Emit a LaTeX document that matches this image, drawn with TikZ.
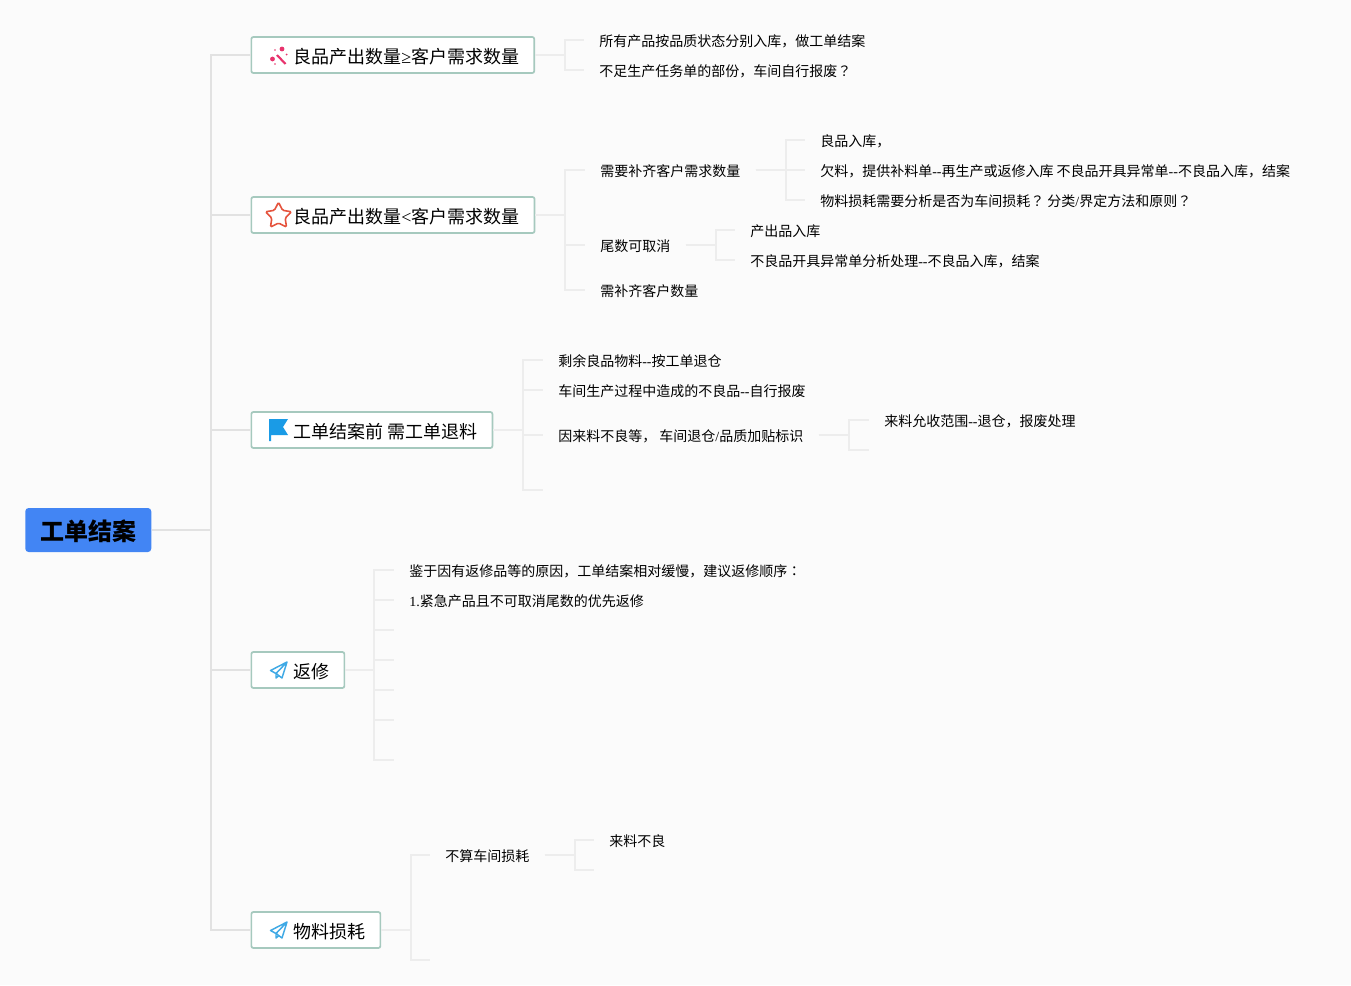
\documentclass[tikz,border=0pt]{standalone}
\usepackage{fontspec}
\usetikzlibrary{shapes.geometric}
\setmainfont{Noto Sans CJK SC}
\newfontfamily\latinfont{Liberation Serif}
\newfontfamily\jpfont{Noto Sans CJK JP}
\newcommand{\lat}[1]{{\latinfont #1}}
\newcommand{\wide}[1]{{\jpfont #1}}
\definecolor{pagebg}{HTML}{FBFBFB}
\definecolor{rootblue}{HTML}{4285F4}
\definecolor{boxedge}{HTML}{A6C9BE}
\definecolor{linkgray}{HTML}{EDEDED}
\definecolor{rootgray}{HTML}{E2E2E2}
\definecolor{wandpink}{HTML}{E8336D}
\definecolor{starred}{HTML}{E5533D}
\definecolor{flagblue}{HTML}{1A9BE6}
\definecolor{planeblue}{HTML}{3FA9E5}
\tikzset{
  rootbox/.style={draw=none, fill=rootblue, rounded corners=2.5pt, anchor=west, minimum height=33pt,
    inner xsep=11.25pt, inner ysep=0pt, font=\fontsize{18}{18}\selectfont\bfseries, text height=18pt, text depth=2.8pt},
  topicbox/.style={draw=boxedge, fill=white, line width=1.3pt, rounded corners=1.5pt, anchor=west, minimum height=27pt,
    inner xsep=11.25pt, inner ysep=0pt, font=\fontsize{13.5}{13.5}\selectfont, text height=15.5pt, text depth=2.3pt},
  leaf/.style={anchor=west, inner xsep=11.25pt, inner ysep=0pt, font=\fontsize{10.5}{10.5}\selectfont, text height=11pt, text depth=1.5pt},
  link/.style={draw=linkgray, line width=1.5pt},
  rootlink/.style={draw=rootgray, line width=1.4pt},
}
\begin{document}
\begin{tikzpicture}[x=0.75pt, y=-0.75pt]
  \fill[pagebg] (0,0) rectangle (1351,985);
  \useasboundingbox (0,0) rectangle (1351,985);

  % Root and its five topics
  \node[rootbox] (root) at (25,530) {工单结案};
  \node[topicbox] (more) at (250.5,55) {\hspace*{20.25pt}良品产出数量\lat{≥}客户需求数量};
  \node[topicbox] (less) at (250.5,215) {\hspace*{20.25pt}良品产出数量\lat{<}客户需求数量};
  \node[topicbox] (back) at (250.5,430) {\hspace*{20.25pt}工单结案前 需工单退料};
  \node[topicbox] (fix) at (250.5,670) {\hspace*{20.25pt}返修};
  \node[topicbox] (loss) at (250.5,930) {\hspace*{20.25pt}物料损耗};
  \foreach \t in {more,less,back,fix,loss}
    \draw[rootlink] (root.east) -- ++(59.5,0) |- (\t.west);

  % Topic 1
  \node[leaf] (more1) at (584,40) {所有产品按品质状态分别入库，做工单结案};
  \node[leaf] (more2) at (584,70) {不足生产任务单的部份，车间自行报废\wide{？}};
  \foreach \t in {more1,more2}
    \draw[link] (more.east) -- ++(30,0) |- (\t.west);

  % Topic 2
  \node[leaf] (less1) at (585,170) {需要补齐客户需求数量};
  \node[leaf] (less2) at (585,245) {尾数可取消};
  \node[leaf] (less3) at (585,290) {需补齐客户数量};
  \foreach \t in {less1,less2,less3}
    \draw[link] (less.east) -- ++(30,0) |- (\t.west);
  \node[leaf] (add1) at (805,140) {良品入库，};
  \node[leaf] (add2) at (805,170) {欠料，提供补料单\lat{--}再生产或返修入库 不良品开具异常单\lat{--}不良品入库，结案};
  \node[leaf] (add3) at (805,200) {物料损耗需要分析是否为车间损耗\wide{？} 分类\lat{/}界定方法和原则\wide{？}};
  \foreach \t in {add1,add2,add3}
    \draw[link] (less1.east) -- ++(30,0) |- (\t.west);
  \node[leaf] (tail1) at (735,230) {产出品入库};
  \node[leaf] (tail2) at (735,260) {不良品开具异常单分析处理\lat{--}不良品入库，结案};
  \foreach \t in {tail1,tail2}
    \draw[link] (less2.east) -- ++(30,0) |- (\t.west);

  % Topic 3
  \node[leaf] (back1) at (543,360) {剩余良品物料\lat{--}按工单退仓};
  \node[leaf] (back2) at (543,390) {车间生产过程中造成的不良品\lat{--}自行报废};
  \node[leaf] (back3) at (543,435) {因来料不良等， 车间退仓\lat{/}品质加贴标识};
  \coordinate (back4) at (543,490);
  \foreach \t in {back1.west,back2.west,back3.west,back4}
    \draw[link] (back.east) -- ++(30,0) |- (\t);
  \node[leaf] (bad1) at (869,420) {来料允收范围\lat{--}退仓，报废处理};
  \coordinate (bad2) at (869,450);
  \foreach \t in {bad1.west,bad2}
    \draw[link] (back3.east) -- ++(30,0) |- (\t);

  % Topic 4
  \node[leaf] (fix1) at (394,570) {鉴于因有返修品等的原因，工单结案相对缓慢，建议返修顺序\wide{：}};
  \node[leaf] (fix2) at (394,600) {\lat{1.}紧急产品且不可取消尾数的优先返修};
  \coordinate (fix3) at (394,630);
  \coordinate (fix4) at (394,660);
  \coordinate (fix5) at (394,690);
  \coordinate (fix6) at (394,720);
  \coordinate (fix7) at (394,760);
  \foreach \t in {fix1.west,fix2.west,fix3,fix4,fix5,fix6,fix7}
    \draw[link] (fix.east) -- ++(29,0) |- (\t);

  % Topic 5
  \node[leaf] (loss1) at (430,855) {不算车间损耗};
  \coordinate (loss2) at (430,960);
  \foreach \t in {loss1.west,loss2}
    \draw[link] (loss.east) -- ++(29.5,0) |- (\t);
  \node[leaf] (in1) at (594,840) {来料不良};
  \coordinate (in2) at (594,870);
  \foreach \t in {in1.west,in2}
    \draw[link] (loss1.east) -- ++(30,0) |- (\t);

  % Icons
  \draw[wandpink, line width=1.6pt] (277,55) -- (285.5,64);
  \fill[wandpink] (272.5,59) circle(2.4) (282,49) circle(2.4) (286.5,54.5) circle(1) (275,50) circle(0.8) (275,64) circle(0.8);
  \node[star, star points=5, star point ratio=1.95, draw=starred, line width=1.2pt, rounded corners=1pt,
    minimum size=20.5pt, inner sep=0pt] (staricon) at (278.5,216) {};
  \fill[flagblue] (269,419) -- (288,419) -- (283,427) -- (288,435) -- (271,435) -- (271,441) -- (269,441) -- cycle;
  \foreach \y in {670,930}
    \draw[planeblue, line width=1.1pt, line join=round] (287,\y-8) -- (270.5,\y+0.5) -- (276,\y+3.5) -- (282,\y+8) -- cycle
      (287,\y-8) -- (276,\y+3.5) -- (276,\y+8) -- (279,\y+5.5);
\end{tikzpicture}
\end{document}
